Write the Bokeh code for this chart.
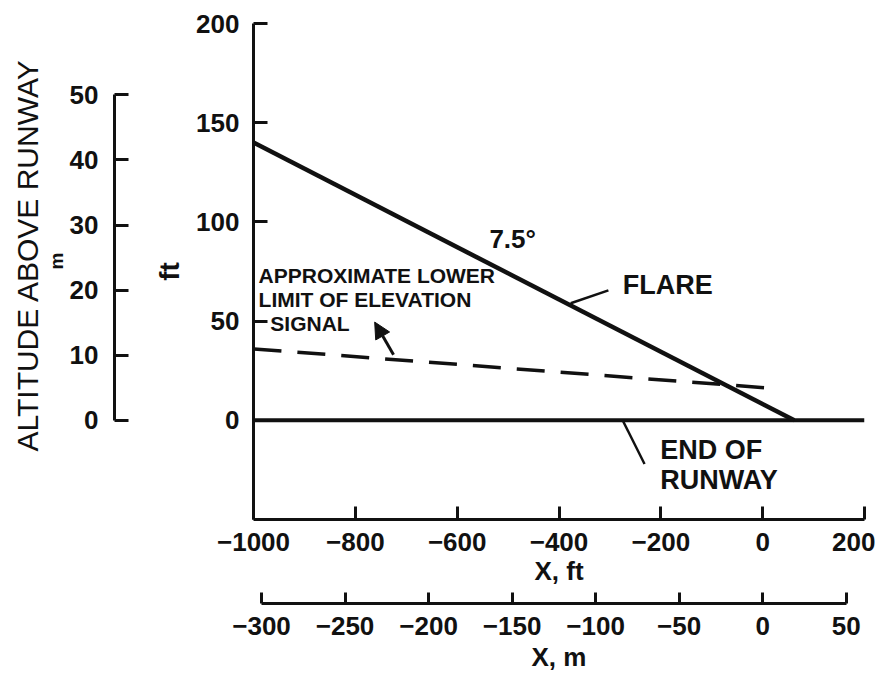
from bokeh.plotting import figure
from bokeh.models import LinearAxis, Range1d, FixedTicker, Label, Arrow, NormalHead, Title
from bokeh.embed import file_html
from bokeh.resources import INLINE

FT_PER_M = 3.2808

# axis ticks
x_ticks_ft = [-1000, -800, -600, -400, -200, 0, 200]
y_ticks_ft = [0, 50, 100, 150, 200]
x_ticks_m = [-300, -250, -200, -150, -100, -50, 0, 50]
y_ticks_m = [0, 10, 20, 30, 40, 50]

# series (ft)
flare_x = [-1000, 62]
flare_y = [140, 0]
runway_x = [-1000, 200]
runway_y = [0, 0]
limit_x = [-1000, 25]
limit_y = [36, 16]

# leader lines (ft)
flare_leader_x = [-377, -303]
flare_leader_y = [59, 65.5]
runway_leader_x = [-275, -232]
runway_leader_y = [0, -22]

FONT = "Liberation Sans"
BLACK = "#111111"

p = figure(width=875, height=674,
           x_range=Range1d(-1000, 200), y_range=Range1d(-50, 200),
           output_backend="svg", toolbar_location=None,
           min_border_left=253, min_border_right=11,
           min_border_top=23, min_border_bottom=151)
p.outline_line_color = None
p.xgrid.visible = False
p.ygrid.visible = False
p.extra_x_ranges = {"m": Range1d(-1000 / FT_PER_M, 200 / FT_PER_M)}
p.extra_y_ranges = {"m": Range1d(-50 / FT_PER_M, 200 / FT_PER_M)}


def style(ax, tick_in, label_standoff, title_size, title_style, title_standoff):
    ax.axis_line_color = BLACK
    ax.axis_line_width = 3
    ax.major_tick_line_color = BLACK
    ax.major_tick_line_width = 3
    ax.major_tick_in = tick_in
    ax.major_tick_out = 0
    ax.minor_tick_line_color = None
    ax.major_label_text_font = FONT
    ax.major_label_text_font_style = "bold"
    ax.major_label_text_font_size = "26px"
    ax.major_label_text_color = BLACK
    ax.major_label_standoff = label_standoff
    ax.axis_label_text_font = FONT
    ax.axis_label_text_font_size = title_size
    ax.axis_label_text_font_style = title_style
    ax.axis_label_text_color = BLACK
    ax.axis_label_standoff = title_standoff


def spacer(size, **kw):
    return LinearAxis(ticker=FixedTicker(ticks=[]), major_tick_out=0,
                      major_tick_in=0, axis_line_color=None,
                      major_tick_line_color=None, minor_tick_line_color=None,
                      major_label_standoff=0, major_label_text_font_size="1px",
                      axis_label="\u00a0", axis_label_standoff=size,
                      axis_label_text_font_size="1px",
                      axis_label_text_color=None, **kw)


# bottom ft axis
xa = p.xaxis[0]
xa.ticker = FixedTicker(ticks=x_ticks_ft)
xa.axis_label = "X, ft"
style(xa, 13, 13, "26px", "bold", 2)

p.add_layout(spacer(11), "below")

xm = LinearAxis(x_range_name="m", ticker=FixedTicker(ticks=x_ticks_m),
                bounds=(-300, 50), axis_label="X, m")
style(xm, 11, 13, "26px", "bold", 4)
p.add_layout(xm, "below")

# left ft axis
ya = p.yaxis[0]
ya.ticker = FixedTicker(ticks=y_ticks_ft)
ya.axis_label = "ft"
style(ya, 14, 14, "28px", "bold", 8)

p.add_layout(spacer(33), "left")

ym = LinearAxis(y_range_name="m", ticker=FixedTicker(ticks=y_ticks_m),
                bounds=(0, 50))
style(ym, 14, 16, "30px", "normal", 0)
p.add_layout(ym, "left")

p.add_layout(Title(text="m", align="left", offset=250, standoff=0,
                   text_font=FONT, text_font_size="19px",
                   text_font_style="bold", text_color=BLACK), "left")
p.add_layout(Title(text="ALTITUDE ABOVE RUNWAY", align="left", offset=68,
                   standoff=0, text_font=FONT, text_font_size="30px",
                   text_font_style="normal", text_color=BLACK), "left")

# lines
p.line(runway_x, runway_y, line_color=BLACK, line_width=4)
p.line(flare_x, flare_y, line_color=BLACK, line_width=4.5)
p.line(limit_x, limit_y, line_color=BLACK, line_width=3.5, line_dash="28 16")
p.line(flare_leader_x, flare_leader_y, line_color=BLACK, line_width=2.5)
p.line(runway_leader_x, runway_leader_y, line_color=BLACK, line_width=2.5)

p.add_layout(Arrow(end=NormalHead(size=16, fill_color=BLACK, line_color=BLACK),
                   x_start=-725, y_start=33, x_end=-762, y_end=49.5,
                   line_color=BLACK, line_width=3))


def lab(text, x, y, size, style_="bold", align="left"):
    p.add_layout(Label(x=x, y=y, text=text, text_font=FONT, text_font_size=size,
                       text_font_style=style_, text_color=BLACK, text_align=align,
                       text_baseline="middle"))


lab("APPROXIMATE LOWER", -990, 73, "21px")
lab("LIMIT OF ELEVATION", -990, 61, "21px")
lab("SIGNAL", -967, 49, "21px")
lab("7.5°", -491, 91.5, "26px", "bold", "center")
lab("FLARE", -275, 68, "27px")
lab("END OF", -201, -15, "27px")
lab("RUNWAY", -201, -30, "27px")

open("out.html", "w").write(file_html(p, INLINE))
